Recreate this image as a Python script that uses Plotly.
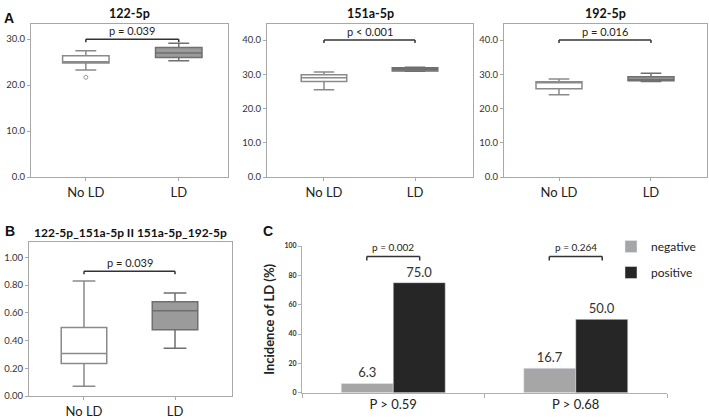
import plotly.graph_objects as go

W, H = 709, 420
FONT = "Lato"

groups = ["No LD", "LD"]

# Panel A: box statistics per miRNA, order [No LD, LD]
titles_A = ["122-5p", "151a-5p", "192-5p"]
q1_A = [[24.8, 26.0], [27.9, 31.0], [25.8, 28.1]]
median_A = [[25.1, 27.0], [29.0, 31.5], [27.5, 28.5]]
q3_A = [[26.4, 28.2], [29.9, 31.9], [27.8, 29.3]]
lower_A = [[23.3, 25.3], [25.5, 30.9], [24.0, 27.9]]
upper_A = [[27.5, 29.1], [30.7, 32.1], [28.6, 30.3]]
outlier_122_noLD = [21.7]
pvals_A = ["p = 0.039", "p < 0.001", "p = 0.016"]
bracket_A = [30.0, 40.0, 40.0]
yticks_A = [[0, 10, 20, 30], [0, 10, 20, 30, 40], [0, 10, 20, 30, 40]]
yrange_A = [[0, 33.3], [0, 44.7], [0, 44.7]]

# Panel B
title_B = "122-5p_151a-5p II 151a-5p_192-5p"
q1_B = [0.234, 0.477]
median_B = [0.306, 0.614]
q3_B = [0.494, 0.679]
lower_B = [0.070, 0.345]
upper_B = [0.829, 0.742]
pval_B = "p = 0.039"
bracket_B = 0.90

# Panel C
cutoffs = ["P > 0.59", "P > 0.68"]
negative = [6.3, 16.7]
positive = [75.0, 50.0]
pvals_C = ["p = 0.002", "p = 0.264"]
bracket_C = 92.8


def px_x(a, b):
    return [a / W, b / W]


def px_y(top, bottom):
    return [1 - bottom / H, 1 - top / H]


fig = go.Figure()

fills = ["#ffffff", "#9b9b9b"]
lines = ["#8a8a8a", "#6f6f6f"]

dom_A = [px_x(31, 228), px_x(267, 473), px_x(504, 707)]
xr_A = [[-0.59, 1.53], [-0.626, 1.637], [-0.598, 1.609]]
axnames = ["", "2", "3"]

for i in range(3):
    ax = axnames[i]
    for g in range(2):
        fig.add_trace(go.Box(
            x=[groups[g]], q1=[q1_A[i][g]], median=[median_A[i][g]], q3=[q3_A[i][g]],
            lowerfence=[lower_A[i][g]], upperfence=[upper_A[i][g]],
            width=0.5, whiskerwidth=0.45,
            fillcolor=fills[g], line=dict(color=lines[g], width=1.5),
            boxpoints=False, showlegend=False, hoverinfo="skip",
            xaxis="x" + ax, yaxis="y" + ax))
fig.add_trace(go.Scatter(
    x=[groups[0]], y=outlier_122_noLD, mode="markers",
    marker=dict(symbol="circle-open", size=4, color="#999999", line=dict(width=1)),
    showlegend=False, xaxis="x", yaxis="y", hoverinfo="skip"))

for g in range(2):
    fig.add_trace(go.Box(
        x=[groups[g]], q1=[q1_B[g]], median=[median_B[g]], q3=[q3_B[g]],
        lowerfence=[lower_B[g]], upperfence=[upper_B[g]],
        width=0.5, whiskerwidth=0.5,
        fillcolor=fills[g], line=dict(color=lines[g], width=1.5),
        boxpoints=False, showlegend=False, hoverinfo="skip",
        xaxis="x4", yaxis="y4"))

fig.add_trace(go.Bar(
    x=cutoffs, y=negative, name="negative", marker_color="#a6a6a6",
    text=negative, texttemplate="%{y:.1f}", textposition="outside", cliponaxis=False,
    textfont=dict(size=13, color="#333333", family=FONT),
    xaxis="x5", yaxis="y5", legendgroup="neg"))
fig.add_trace(go.Bar(
    x=cutoffs, y=positive, name="positive", marker_color="#262626",
    text=positive, texttemplate="%{y:.1f}", textposition="outside", cliponaxis=False,
    textfont=dict(size=13, color="#333333", family=FONT),
    xaxis="x5", yaxis="y5", legendgroup="pos"))

frame = dict(showline=True, linecolor="#a8a8a8", linewidth=1, mirror=True,
             showgrid=False, zeroline=False)

layout = dict(
    width=W, height=H, margin=dict(l=0, r=0, t=0, b=0, autoexpand=False),
    paper_bgcolor="white", plot_bgcolor="white",
    font=dict(family=FONT, color="#222222"),
    barmode="group", bargap=0.43, bargroupgap=0,
    legend=dict(x=611 / W, y=1 - 232 / H, xanchor="left", yanchor="top",
                font=dict(size=12, color="#222222", family=FONT),
                tracegroupgap=7, itemwidth=30, bgcolor="rgba(0,0,0,0)"),
)

yd_A = px_y(24, 177)
for i in range(3):
    ax = axnames[i]
    layout["xaxis" + ax] = dict(
        domain=dom_A[i], type="category", categoryorder="array", categoryarray=groups,
        range=xr_A[i], ticks="outside", ticklen=3, tickcolor="#a8a8a8",
        tickfont=dict(size=13, color="#222222"), anchor="y" + ax, **frame)
    layout["yaxis" + ax] = dict(
        domain=yd_A, range=yrange_A[i], tickvals=yticks_A[i], tickformat=".1f",
        ticks="outside", ticklen=3, tickcolor="#a8a8a8",
        tickfont=dict(size=9.5, color="#333333"), anchor="x" + ax, **frame)

layout["xaxis4"] = dict(
    domain=px_x(29, 232), type="category", categoryorder="array", categoryarray=groups,
    range=[-0.604, 1.626], ticks="outside", ticklen=3, tickcolor="#a8a8a8",
    tickfont=dict(size=13, color="#222222"), anchor="y4", **frame)
layout["yaxis4"] = dict(
    domain=px_y(242, 396), range=[0, 1.11], tickvals=[0, 0.2, 0.4, 0.6, 0.8, 1.0],
    tickformat=".2f", ticks="outside", ticklen=3, tickcolor="#a8a8a8",
    tickfont=dict(size=9.5, color="#333333"), anchor="x4", **frame)

layout["xaxis5"] = dict(
    domain=px_x(302, 667), type="category", range=[-0.5, 1.5],
    showline=True, linecolor="#b0b0b0", linewidth=1, showgrid=False, zeroline=False,
    ticks="outside", tickson="boundaries", ticklen=4, tickcolor="#b0b0b0",
    tickfont=dict(size=13, color="#222222"), anchor="y5")
layout["yaxis5"] = dict(
    domain=px_y(246, 392.7), range=[0, 100], tickvals=[0, 20, 40, 60, 80, 100],
    showline=True, linecolor="#b0b0b0", linewidth=1, showgrid=False, zeroline=False,
    ticks="outside", ticklen=3, tickcolor="#b0b0b0",
    tickfont=dict(size=7, color="#333333", weight="bold"),
    title=dict(text="Incidence of LD (%)", font=dict(size=13, color="#222222", weight="bold"),
               standoff=6),
    anchor="x5")

fig.update_layout(**layout)

shapes = []
annotations = []


def bracket(xref, yref, x0, x1, y, tick=3, color="#333333"):
    shapes.append(dict(type="line", xref=xref, yref=yref, x0=x0, x1=x1, y0=y, y1=y,
                       line=dict(color=color, width=1.5)))
    for xx in (x0, x1):
        shapes.append(dict(type="line", xref=xref, yref=yref, x0=xx, x1=xx,
                           ysizemode="pixel", yanchor=y, y0=0, y1=-tick,
                           line=dict(color=color, width=1.5)))


def paper_text(text, xx, yy, size, family=None):
    f = dict(size=size, color="#111111")
    if family:
        f["family"] = family
    annotations.append(dict(xref="paper", yref="paper", x=xx / W, y=1 - yy / H,
                            xanchor="center", yanchor="middle",
                            text=text, showarrow=False, font=f))


for i in range(3):
    ax = axnames[i]
    bracket("x" + ax, "y" + ax, 0, 1, bracket_A[i])
    annotations.append(dict(xref="x" + ax, yref="y" + ax, x=0.5, y=bracket_A[i],
                            text=pvals_A[i], showarrow=False, xanchor="center",
                            yanchor="bottom", yshift=0,
                            font=dict(size=11, color="#222222")))
    dmid = (dom_A[i][0] + dom_A[i][1]) / 2 * W
    paper_text("<b>" + titles_A[i] + "</b>", dmid, 13, 12.5)

bracket("x4", "y4", 0, 1, bracket_B)
annotations.append(dict(xref="x4", yref="y4", x=0.5, y=bracket_B, text=pval_B,
                        showarrow=False, xanchor="center", yanchor="bottom",
                        font=dict(size=11, color="#222222")))
paper_text("<b>" + title_B + "</b>", 130, 232, 12)

for k in range(2):
    bracket("x5", "y5", k - 0.145, k + 0.145, bracket_C, tick=4)
    annotations.append(dict(xref="x5", yref="y5", x=k, y=bracket_C, text=pvals_C[k],
                            showarrow=False, xanchor="center", yanchor="bottom", yshift=2,
                            font=dict(size=10, color="#222222")))

for lab, xx, yy in [("A", 9, 18), ("B", 10, 231), ("C", 268, 231)]:
    paper_text("<b>" + lab + "</b>", xx, yy, 14, "Liberation Sans")

fig.update_layout(shapes=shapes, annotations=annotations)
fig.write_html("out.html", config={"displayModeBar": False},
               post_script="document.body.style.margin='0';")
